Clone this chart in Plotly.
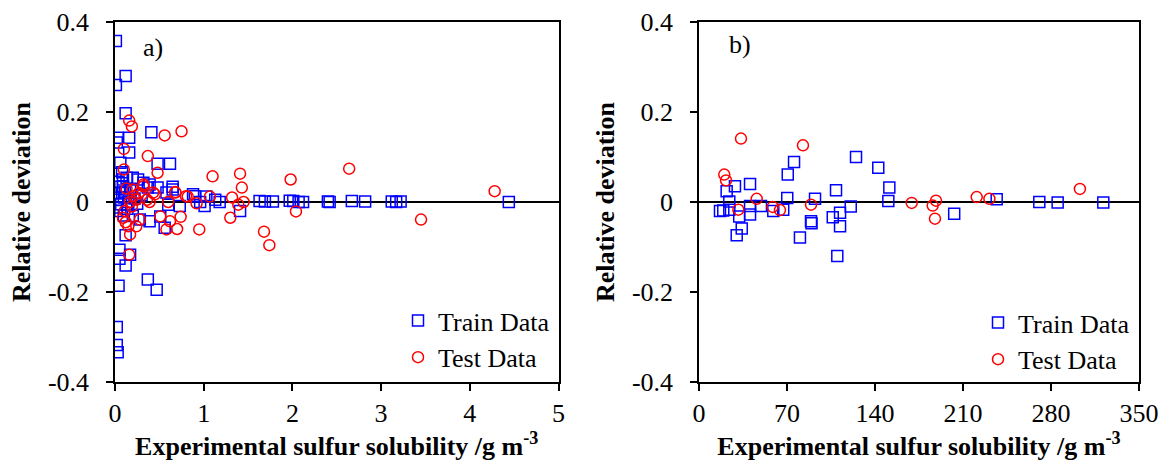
import plotly.graph_objects as go

# Panel a) data (x: g m-3, y: relative deviation)
a_train_x = [0.01, 0.01, 0.12, 0.12, 0.41, 0.16, 0.03, 0.02, 0.16, 0.48, 0.62, 0.005,
             0.04, 0.02, 0.02, 0.03, 0.37, 0.47, 0.05, 0.05, 0.12, 0.17, 0.12, 0.56,
             1.41, 1.63, 1.69, 1.78, 1.97, 2.01, 2.07, 2.12, 2.40, 2.42, 2.67, 2.82,
             3.12, 3.17, 3.22, 4.44, 0.96, 1.13, 1.18, 1.01, 0.90, 0.73, 0.65, 0.60,
             0.51, 0.39, 0.28, 0.48, 0.06, 0.08, 0.09, 0.13, 0.20, 0.26, 0.32, 0.39,
             0.65, 0.06, 0.11, 0.58, 0.88, 1.03, 0.09, 0.17, 0.37, 0.02, 0.06, 0.20,
             0.03, 0.07, 0.10, 0.14, 0.22, 0.25, 0.30, 0.04, 0.08, 0.15, 0.10]
a_train_y = [0.358, 0.26, 0.28, 0.197, 0.155, 0.143, 0.143, 0.132, 0.11, 0.085, 0.085, 0.02,
             -0.186, -0.278, -0.318, -0.334, -0.172, -0.195, -0.106, -0.126, -0.141, -0.117, -0.074, -0.057,
             -0.02, 0.002, 0.001, 0.001, 0.003, 0.002, 0.0, 0.0, 0.001, 0.0, 0.002, 0.001,
             0.001, 0.0, 0.001, 0.0, 0.0, 0.005, 0.0, -0.009, 0.013, -0.009, 0.028, -0.006,
             -0.032, -0.043, -0.039, 0.032, 0.087, 0.066, 0.05, 0.054, 0.054, 0.05, 0.043, 0.039,
             0.034, 0.034, 0.021, 0.021, 0.017, 0.012, 0.035, 0.028, 0.032, -0.012, -0.02, -0.031,
             0.005, -0.005, 0.01, -0.015, 0.008, -0.004, 0.015, 0.045, 0.02, 0.0, -0.03]

a_test_x = [0.16, 0.19, 0.56, 0.75, 0.10, 0.37, 0.10, 0.48, 1.10, 1.41, 1.98, 2.64,
            2.04, 3.45, 4.28, 0.20, 0.32, 0.43, 0.68, 0.82, 1.07, 1.32, 0.11, 0.17,
            0.24, 0.36, 0.39, 0.28, 0.24, 0.15, 0.17, 0.16, 0.09, 0.21, 0.32, 0.45,
            0.51, 0.62, 0.58, 0.70, 0.74, 0.60, 0.68, 0.80, 0.92, 0.95, 1.30, 1.39,
            1.45, 1.43, 1.68, 1.74, 0.13, 0.19, 0.27, 0.12]
a_test_y = [0.181, 0.168, 0.148, 0.157, 0.118, 0.102, 0.072, 0.065, 0.057, 0.063, 0.05, 0.074,
            -0.021, -0.039, 0.024, 0.028, 0.039, 0.021, 0.021, 0.012, 0.012, 0.01, -0.02, 0.0,
            0.005, 0.005, 0.0, -0.039, -0.054, -0.054, -0.072, -0.117, -0.035, 0.013, 0.035, 0.017,
            -0.032, -0.043, -0.061, -0.06, -0.033, 0.0, 0.022, 0.013, -0.003, -0.061, -0.035, -0.006,
            0.0, 0.032, -0.066, -0.096, 0.03, -0.01, 0.02, -0.045]

# Panel b) data
b_train_x = [16.7, 19.3, 24.1, 22.0, 28.6, 40.6, 24.1, 32.0, 34.0, 30.0, 40.6, 40.6,
             49.3, 59.1, 67.0, 70.2, 70.6, 75.6, 80.3, 89.1, 89.5, 92.3, 109.0, 106.4,
             112.2, 112.2, 110.0, 120.7, 124.9, 142.6, 151.4, 150.6, 236.8, 203.0, 270.7,
             285.3, 321.6]
b_train_y = [-0.02, -0.019, 0.001, 0.024, 0.035, 0.04, -0.017, -0.032, -0.059, -0.074, -0.009, -0.028,
             -0.009, -0.02, -0.017, 0.009, 0.061, 0.089, -0.079, -0.043, -0.047, 0.007, 0.026, -0.034,
             -0.024, -0.054, -0.12, -0.01, 0.1, 0.076, 0.032, 0.002, 0.006, -0.026, 0.0,
             -0.001, -0.001]

b_test_x = [20.1, 21.5, 31.3, 45.9, 58.6, 64.4, 89.1, 33.4, 82.7, 169.2, 188.5, 185.9,
            187.7, 220.9, 231.0, 303.0]
b_test_y = [0.061, 0.048, -0.017, 0.007, -0.011, -0.018, -0.006, 0.141, 0.126, -0.002, 0.003, -0.008,
            -0.037, 0.011, 0.007, 0.029]

y_ticks = [0.4, 0.2, 0.0, -0.2, -0.4]
y_ticktext = ["0.4", "0.2", "0", "-0.2", "-0.4"]
a_xticks = [0, 1, 2, 3, 4, 5]
b_xticks = [0, 70, 140, 210, 280, 350]

BLUE = "#0000FF"
RED = "#FF0000"
FONT = "Liberation Serif"
FS = 26

fig = go.Figure()

def add_pair(xs, ys, xt, yt, xa, ya, legend):
    fig.add_trace(go.Scatter(x=xs, y=ys, mode="markers", name="Train Data",
                             marker=dict(symbol="square-open", size=11, color=BLUE,
                                         line=dict(width=1.5, color=BLUE)),
                             xaxis=xa, yaxis=ya, legend=legend))
    fig.add_trace(go.Scatter(x=xt, y=yt, mode="markers", name="Test Data",
                             marker=dict(symbol="circle-open", size=11, color=RED,
                                         line=dict(width=1.5, color=RED)),
                             xaxis=xa, yaxis=ya, legend=legend))

add_pair(a_train_x, a_train_y, a_test_x, a_test_y, "x", "y", "legend")
add_pair(b_train_x, b_train_y, b_test_x, b_test_y, "x2", "y2", "legend2")

W, H = 1159, 463

def px(v):
    return v / W

def py(v):
    return 1 - v / H

ydom = [py(382), py(22)]
xdom_a = [px(115), px(558.5)]
xdom_b = [px(699), px(1139)]

axis_common = dict(showline=True, linecolor="black", linewidth=1.5, mirror=True,
                   ticks="outside", ticklen=7, tickcolor="black", tickwidth=1.5,
                   showgrid=False, automargin=False,
                   tickfont=dict(family=FONT, size=FS, color="black"))

xtitle = dict(text="<b>Experimental sulfur solubility /g m<sup>-3</sup></b>",
              font=dict(family=FONT, size=FS, color="black"), standoff=6)
ytitle = dict(text="<b>Relative deviation</b>",
              font=dict(family=FONT, size=FS, color="black"), standoff=10)

legend_common = dict(font=dict(family=FONT, size=FS, color="black"),
                     bgcolor="rgba(0,0,0,0)", tracegroupgap=0, itemwidth=30,
                     xanchor="left", yanchor="top")

fig.update_layout(
    width=W, height=H,
    margin=dict(l=0, r=0, t=0, b=0),
    paper_bgcolor="white", plot_bgcolor="white",
    xaxis=dict(domain=xdom_a, range=[0, 5], tickvals=a_xticks, title=xtitle,
               zeroline=False, anchor="y", ticklabelstandoff=0, **axis_common),
    yaxis=dict(domain=ydom, range=[-0.4, 0.4], tickvals=y_ticks, ticktext=y_ticktext,
               title=ytitle, zeroline=True, zerolinecolor="black", zerolinewidth=1.5,
               anchor="x", ticklabelstandoff=12, **axis_common),
    xaxis2=dict(domain=xdom_b, range=[0, 350], tickvals=b_xticks, title=xtitle,
                zeroline=False, anchor="y2", ticklabelstandoff=0, **axis_common),
    yaxis2=dict(domain=ydom, range=[-0.4, 0.4], tickvals=y_ticks, ticktext=y_ticktext,
                title=ytitle, zeroline=True, zerolinecolor="black", zerolinewidth=1.5,
                anchor="x2", ticklabelstandoff=12, **axis_common),
    legend=dict(x=px(398), y=py(297), **legend_common),
    legend2=dict(x=px(978), y=py(299), **legend_common),
    annotations=[
        dict(text="a)", x=0.43, y=0.343, xref="x", yref="y", showarrow=False,
             font=dict(family=FONT, size=FS, color="black")),
        dict(text="b)", x=33, y=0.35, xref="x2", yref="y2", showarrow=False,
             font=dict(family=FONT, size=FS, color="black")),
    ],
)

# remove the page's default body margin so the figure fills the window exactly
fig.write_html("out.html", config={"displayModeBar": False},
               post_script="document.body.style.margin='0';document.body.style.overflow='hidden';")
